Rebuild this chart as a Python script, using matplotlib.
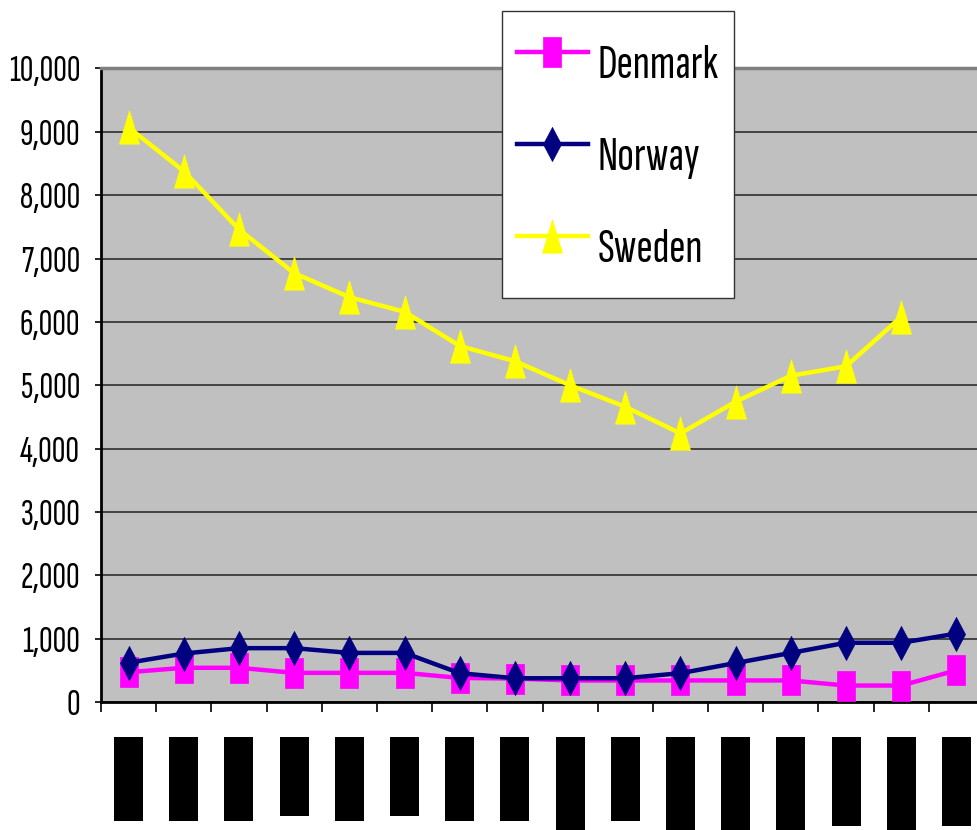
import numpy as np
import matplotlib
matplotlib.use("Agg")
import matplotlib.pyplot as plt
import matplotlib.transforms as mtransforms
from matplotlib.patches import Rectangle

countries = ["Denmark", "Norway", "Sweden"]
denmark = [470, 540, 540, 460, 460, 460, 380, 370, 340, 340, 340, 340, 340, 260, 260, 500]
norway = [620, 765, 850, 850, 775, 775, 455, 375, 375, 375, 455, 615, 775, 935, 935, 1080]
sweden = [9070, 8380, 7460, 6770, 6390, 6160, 5620, 5380, 5000, 4660, 4240, 4740, 5150, 5300, 6080, np.nan]
yticks = list(range(0, 10001, 1000))
ytick_labels = [f"{v:,}" for v in yticks]
# category labels are blacked out in the source; only their lengths are known (pixels)
label_len_px = [84, 84, 84, 79, 84, 79, 84, 84, 93, 84, 93, 93, 93, 89, 93, 89]

colors = ["#FF00FF", "#000080", "#FFFF00"]
font = ["Sofia Sans Extra Condensed", "Liberation Sans", "DejaVu Sans"]

sq = [(-0.293, -0.5), (0.293, -0.5), (0.293, 0.5), (-0.293, 0.5), (-0.293, -0.5)]
dia = [(0, 0.5), (0.265, 0), (0, -0.5), (-0.265, 0), (0, 0.5)]
tri = [(0, 0.5), (0.3, -0.5), (-0.3, -0.5), (0, 0.5)]
markers = [sq, dia, tri]
msizes = [21, 24.5, 24]

W, H = 977, 830
fig = plt.figure(figsize=(W / 100, H / 100), dpi=100)
ax = fig.add_axes([101 / W, 128 / H, 883 / W, 633.5 / H])
ax.set_facecolor("#C0C0C0")

x = np.arange(len(denmark))
for vals, name, c, m, ms in zip([denmark, norway, sweden], countries, colors, markers, msizes):
    ax.plot(x, vals, color=c, lw=3.2, marker=m, ms=ms, mec=c, mfc=c, mew=0.5,
            label=name, clip_on=False, zorder=3)

ax.set_xlim(-0.5, len(denmark) - 0.5)
ax.set_ylim(0, 10000)
ax.set_yticks(yticks, ytick_labels)
ax.set_xticks(np.arange(-0.5, len(denmark), 1.0), [])
ax.yaxis.grid(True, color="#222222", lw=1.1)
ax.set_axisbelow(True)
ax.tick_params(axis="y", length=4, width=1.2, pad=11, labelsize=20)
ax.tick_params(axis="x", length=7.5, width=1.2, direction="out")

ax.spines["right"].set_visible(False)
ax.spines["top"].set_color("#808080")
ax.spines["top"].set_linewidth(2.5)
ax.spines["left"].set_linewidth(2)
ax.spines["bottom"].set_linewidth(2)

tr = mtransforms.blended_transform_factory(ax.transData, ax.transAxes)
top = -35 / 633.5
for i, L in enumerate(label_len_px):
    h = L / 633.5
    ax.add_patch(Rectangle((i - 0.2625, top - h), 0.525, h, transform=tr,
                           facecolor="black", edgecolor="none", clip_on=False))

# fit the y label size so "10,000" is ~72 px wide
fig.canvas.draw()
r = fig.canvas.get_renderer()
labs = ax.get_yticklabels()
for lab in labs:
    lab.set_family(font)
w = labs[-1].get_window_extent(r).width
ysize = 20 * 72 / w
ax.tick_params(axis="y", labelsize=ysize)

# fit legend size so "Denmark" is ~121 px wide
probe = fig.text(0, 0, "Denmark", family=font, size=30)
lsize = 30 * 121 / probe.get_window_extent(r).width
probe.remove()
em = lsize * 100 / 72  # font size in pixels
row_h = 73
leg = ax.legend(loc="upper left", bbox_to_anchor=(502 / W, 1 - 11 / H),
                bbox_transform=fig.transFigure, borderaxespad=0,
                prop={"family": font, "size": lsize}, frameon=True, fancybox=False,
                framealpha=1, edgecolor="#333333", borderpad=0.3,
                handlelength=71 / em, handleheight=(row_h / em - 0.245) / 0.65,
                handletextpad=0.2, labelspacing=19 / em)
leg.get_frame().set_linewidth(1)
leg.set_zorder(5)

plt.savefig("out.png", dpi=100)
